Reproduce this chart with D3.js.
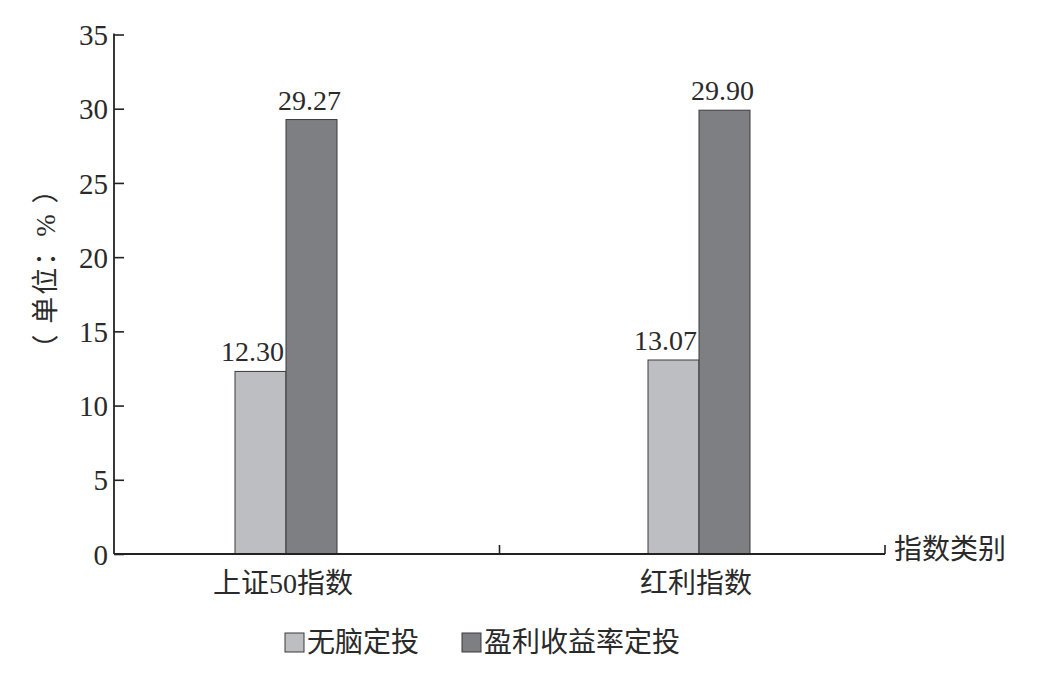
<!DOCTYPE html>
<html>
<head>
<meta charset="utf-8">
<script src="https://cdn.jsdelivr.net/npm/d3@7"></script>
<style>
  html, body { margin: 0; padding: 0; background: #fff; }
  svg text { font-family: "Liberation Serif", "Noto Sans CJK SC", serif; fill: #2a2a2a; }
</style>
</head>
<body>
<svg id="chart" width="1054" height="673"></svg>
<script>
// 数据
const categories = ['上证50指数', '红利指数']
const seriesNames = ['无脑定投', '盈利收益率定投']
const seriesA = [12.30, 13.07] // 无脑定投
const seriesB = [29.27, 29.90] // 盈利收益率定投
const yTicks = [0, 5, 10, 15, 20, 25, 30, 35]
const colors = ['#bdbec2', '#7e7f83']

const svg = d3.select('#chart')
const plotLeft = 114, plotRight = 885, plotTop = 34.5, plotBottom = 554
const barWidth = 51

// 刻度尺
const y = d3.scaleLinear().domain([0, 35]).range([plotBottom, plotTop])
const xBand = d3.scaleBand().domain(categories).range([plotLeft, plotRight])
const xCenter = d3.scalePoint().domain(categories).range([286, 699])
const xInner = d3.scaleBand().domain(seriesNames).range([-barWidth, barWidth])

const rows = categories.map((c, i) => ({ cat: c, values: [seriesA[i], seriesB[i]] }))

// y 轴
const yAxis = svg.append('g')
  .attr('transform', `translate(${plotLeft},0)`)
  .call(d3.axisRight(y).tickValues(yTicks).tickSize(10).tickFormat(d3.format('d')))
yAxis.select('.domain').remove()
yAxis.selectAll('line').attr('stroke', '#222').attr('stroke-width', 1.6)
yAxis.selectAll('text')
  .attr('x', -6)
  .attr('text-anchor', 'end')
  .attr('dy', '0.35em')
  .attr('font-size', 29)
  .style('fill', '#2a2a2a')
svg.append('line')
  .attr('x1', plotLeft).attr('x2', plotLeft)
  .attr('y1', plotTop - 1).attr('y2', plotBottom)
  .attr('stroke', '#222').attr('stroke-width', 1.8)

// 柱子
const groups = svg.append('g').selectAll('g')
  .data(rows)
  .join('g')
  .attr('transform', d => `translate(${xCenter(d.cat)},0)`)

groups.selectAll('rect')
  .data(d => d.values.map((v, i) => ({ name: seriesNames[i], v: v, i: i })))
  .join('rect')
  .attr('x', d => xInner(d.name))
  .attr('width', xInner.bandwidth())
  .attr('y', d => y(d.v))
  .attr('height', d => y(0) - y(d.v))
  .attr('fill', d => colors[d.i])
  .attr('stroke', '#3a3a3a')
  .attr('stroke-width', 1)

groups.selectAll('text.val')
  .data(d => d.values.map((v, i) => ({ name: seriesNames[i], v: v, i: i })))
  .join('text')
  .attr('class', 'val')
  .attr('x', d => xInner(d.name) + xInner.bandwidth() / 2 + (d.i === 0 ? -8 : -2))
  .attr('y', d => y(d.v) - 10)
  .attr('text-anchor', 'middle')
  .attr('font-size', 28)
  .text(d => d.v.toFixed(2))

// x 轴
svg.append('line')
  .attr('x1', plotLeft).attr('x2', plotRight)
  .attr('y1', plotBottom).attr('y2', plotBottom)
  .attr('stroke', '#222').attr('stroke-width', 1.8)
svg.append('g').selectAll('line')
  .data(categories)
  .join('line')
  .attr('x1', d => xBand(d) + xBand.bandwidth())
  .attr('x2', d => xBand(d) + xBand.bandwidth())
  .attr('y1', plotBottom).attr('y2', plotBottom - 9)
  .attr('stroke', '#222').attr('stroke-width', 1.6)

svg.append('g').selectAll('text')
  .data(categories)
  .join('text')
  .attr('x', d => xCenter(d) - 3)
  .attr('y', 593)
  .attr('text-anchor', 'middle')
  .attr('font-size', 28)
  .text(d => d)

svg.append('text')
  .attr('x', 894)
  .attr('y', 559)
  .attr('font-size', 28)
  .text('指数类别')

// y 轴标题
svg.append('text')
  .attr('transform', 'translate(55,268) rotate(-90)')
  .attr('text-anchor', 'middle')
  .attr('font-size', 27)
  .attr('letter-spacing', 2)
  .text('（ 单位：% ）')

// 图例
const legendX = [285, 462]
const legend = svg.append('g').selectAll('g')
  .data(seriesNames)
  .join('g')
  .attr('transform', (d, i) => `translate(${legendX[i]},633)`)
legend.append('rect')
  .attr('width', 19).attr('height', 19)
  .attr('fill', (d, i) => colors[i])
  .attr('stroke', '#3a3a3a').attr('stroke-width', 1)
legend.append('text')
  .attr('x', 22)
  .attr('y', 19)
  .attr('font-size', 28)
  .text(d => d)
</script>
</body>
</html>
